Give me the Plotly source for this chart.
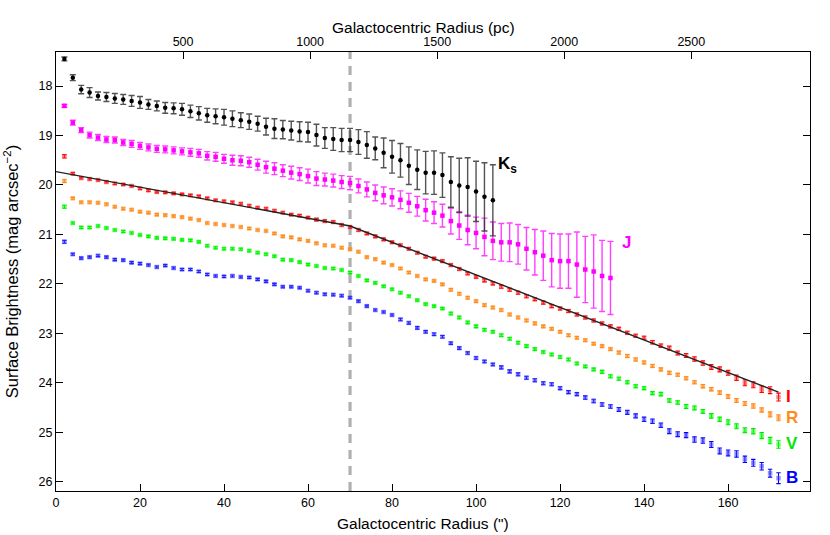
import plotly.graph_objects as go

# ---------------- data ----------------
radius = [2, 4, 6, 8, 10, 12, 14, 16, 18, 20, 22, 24, 26, 28, 30, 32, 34, 36, 38, 40,
          42, 44, 46, 48, 50, 52, 54, 56, 58, 60, 62, 64, 66, 68, 70, 72, 74, 76, 78, 80,
          82, 84, 86, 88, 90, 92, 94, 96, 98, 100, 102, 104, 106, 108, 110, 112, 114, 116, 118, 120,
          122, 124, 126, 128, 130, 132, 134, 136, 138, 140, 142, 144, 146, 148, 150, 152, 154, 156, 158, 160,
          162, 164, 166, 168, 170, 172]

I_mag = [19.42, 19.77, 19.86, 19.88, 19.90, 19.94, 19.97, 19.99, 20.02, 20.07, 20.11, 20.14, 20.15, 20.17, 20.19, 20.21, 20.23, 20.27, 20.31, 20.33,
         20.35, 20.38, 20.42, 20.46, 20.48, 20.52, 20.56, 20.60, 20.62, 20.66, 20.70, 20.73, 20.75, 20.81, 20.85, 20.91, 20.98, 21.04, 21.10, 21.16,
         21.22, 21.29, 21.37, 21.45, 21.49, 21.54, 21.62, 21.70, 21.79, 21.86, 21.93, 21.99, 22.06, 22.12, 22.18, 22.25, 22.31, 22.38, 22.45, 22.50,
         22.55, 22.62, 22.68, 22.74, 22.80, 22.86, 22.91, 22.99, 23.05, 23.09, 23.18, 23.25, 23.30, 23.40, 23.45, 23.52, 23.60, 23.68, 23.73, 23.80,
         23.90, 24.00, 24.04, 24.13, 24.15, 24.29]
R_mag = [19.92, 20.27, 20.35, 20.35, 20.36, 20.39, 20.44, 20.48, 20.50, 20.54, 20.56, 20.60, 20.61, 20.63, 20.65, 20.68, 20.71, 20.77, 20.79, 20.81,
         20.83, 20.85, 20.88, 20.91, 20.93, 20.98, 21.04, 21.06, 21.10, 21.13, 21.18, 21.22, 21.23, 21.27, 21.30, 21.35, 21.46, 21.50, 21.57, 21.62,
         21.69, 21.77, 21.84, 21.91, 21.94, 22.01, 22.12, 22.20, 22.28, 22.35, 22.43, 22.48, 22.53, 22.62, 22.68, 22.74, 22.80, 22.86, 22.91, 22.97,
         23.04, 23.09, 23.14, 23.21, 23.26, 23.32, 23.39, 23.46, 23.53, 23.59, 23.66, 23.73, 23.80, 23.84, 23.91, 23.99, 24.07, 24.13, 24.20, 24.28,
         24.36, 24.42, 24.47, 24.55, 24.64, 24.71]
V_mag = [20.44, 20.77, 20.86, 20.86, 20.83, 20.87, 20.91, 20.94, 20.97, 21.01, 21.04, 21.07, 21.08, 21.09, 21.11, 21.12, 21.15, 21.23, 21.27, 21.29,
         21.29, 21.30, 21.33, 21.37, 21.40, 21.44, 21.51, 21.52, 21.56, 21.61, 21.64, 21.68, 21.69, 21.72, 21.77, 21.84, 21.93, 21.98, 22.05, 22.11,
         22.18, 22.25, 22.33, 22.41, 22.45, 22.50, 22.60, 22.68, 22.78, 22.86, 22.93, 22.97, 23.04, 23.11, 23.19, 23.26, 23.32, 23.38, 23.43, 23.48,
         23.53, 23.61, 23.67, 23.73, 23.78, 23.87, 23.92, 23.99, 24.07, 24.11, 24.21, 24.23, 24.36, 24.40, 24.48, 24.51, 24.58, 24.67, 24.74, 24.80,
         24.88, 24.96, 24.98, 25.07, 25.17, 25.25]
B_mag = [21.15, 21.40, 21.48, 21.46, 21.43, 21.46, 21.51, 21.52, 21.57, 21.59, 21.62, 21.66, 21.63, 21.68, 21.71, 21.71, 21.75, 21.81, 21.84, 21.85,
         21.84, 21.86, 21.87, 21.91, 21.95, 22.01, 22.06, 22.06, 22.08, 22.14, 22.18, 22.21, 22.22, 22.24, 22.28, 22.35, 22.45, 22.53, 22.57, 22.63,
         22.72, 22.79, 22.89, 22.97, 23.02, 23.07, 23.20, 23.30, 23.40, 23.50, 23.57, 23.63, 23.69, 23.77, 23.83, 23.90, 23.95, 24.01, 24.03, 24.11,
         24.19, 24.23, 24.30, 24.37, 24.44, 24.48, 24.54, 24.60, 24.67, 24.74, 24.78, 24.86, 24.98, 25.04, 25.06, 25.15, 25.17, 25.25, 25.38, 25.42,
         25.44, 25.55, 25.62, 25.69, 25.83, 25.93]

I_err = [0.035, 0.02, 0.02, 0.02, 0.02, 0.02, 0.02, 0.02, 0.02, 0.02, 0.02, 0.02, 0.02, 0.02, 0.02, 0.02, 0.02, 0.02, 0.02, 0.02,
         0.02, 0.02, 0.02, 0.02, 0.02, 0.02, 0.02, 0.02, 0.02, 0.02, 0.025, 0.025, 0.025, 0.025, 0.025, 0.025, 0.025, 0.025, 0.025, 0.025,
         0.025, 0.025, 0.025, 0.025, 0.025, 0.025, 0.025, 0.025, 0.025, 0.025, 0.03, 0.03, 0.03, 0.03, 0.03, 0.03, 0.03, 0.03, 0.03, 0.03,
         0.03, 0.03, 0.03, 0.03, 0.03, 0.03, 0.03, 0.03, 0.03, 0.03, 0.035, 0.035, 0.04, 0.04, 0.04, 0.045, 0.045, 0.05, 0.05, 0.05,
         0.055, 0.06, 0.06, 0.065, 0.07, 0.08]
R_err = [0.03, 0.02, 0.02, 0.02, 0.02, 0.02, 0.02, 0.02, 0.02, 0.02, 0.02, 0.02, 0.02, 0.02, 0.02, 0.02, 0.02, 0.02, 0.02, 0.02,
         0.02, 0.02, 0.02, 0.02, 0.02, 0.02, 0.02, 0.02, 0.02, 0.02, 0.02, 0.02, 0.02, 0.02, 0.02, 0.02, 0.02, 0.02, 0.02, 0.02,
         0.02, 0.02, 0.02, 0.02, 0.02, 0.02, 0.025, 0.025, 0.025, 0.025, 0.025, 0.025, 0.025, 0.025, 0.025, 0.025, 0.025, 0.025, 0.025, 0.025,
         0.025, 0.025, 0.025, 0.025, 0.025, 0.025, 0.03, 0.03, 0.03, 0.03, 0.03, 0.03, 0.03, 0.03, 0.03, 0.03, 0.035, 0.035, 0.035, 0.04,
         0.04, 0.04, 0.045, 0.045, 0.05, 0.06]
V_err = [0.03, 0.02, 0.02, 0.02, 0.02, 0.02, 0.02, 0.02, 0.02, 0.02, 0.02, 0.02, 0.02, 0.02, 0.02, 0.02, 0.02, 0.02, 0.02, 0.02,
         0.02, 0.02, 0.02, 0.02, 0.02, 0.02, 0.02, 0.02, 0.02, 0.02, 0.02, 0.02, 0.02, 0.02, 0.02, 0.02, 0.02, 0.02, 0.02, 0.02,
         0.02, 0.02, 0.02, 0.02, 0.02, 0.02, 0.025, 0.025, 0.025, 0.025, 0.025, 0.025, 0.025, 0.025, 0.025, 0.025, 0.025, 0.025, 0.025, 0.025,
         0.025, 0.025, 0.025, 0.025, 0.03, 0.03, 0.03, 0.03, 0.03, 0.03, 0.03, 0.035, 0.035, 0.035, 0.04, 0.04, 0.04, 0.045, 0.045, 0.05,
         0.05, 0.05, 0.055, 0.06, 0.065, 0.075]
B_err = [0.03, 0.02, 0.02, 0.02, 0.02, 0.02, 0.02, 0.02, 0.02, 0.02, 0.02, 0.02, 0.02, 0.02, 0.02, 0.02, 0.02, 0.02, 0.02, 0.02,
         0.02, 0.02, 0.02, 0.02, 0.02, 0.02, 0.02, 0.02, 0.02, 0.02, 0.02, 0.02, 0.02, 0.02, 0.02, 0.02, 0.02, 0.02, 0.02, 0.02,
         0.025, 0.025, 0.025, 0.025, 0.025, 0.025, 0.025, 0.025, 0.025, 0.025, 0.025, 0.025, 0.03, 0.03, 0.03, 0.03, 0.03, 0.03, 0.03, 0.03,
         0.03, 0.03, 0.035, 0.035, 0.035, 0.035, 0.04, 0.04, 0.04, 0.045, 0.045, 0.045, 0.05, 0.05, 0.05, 0.055, 0.055, 0.06, 0.06, 0.06,
         0.065, 0.065, 0.07, 0.075, 0.08, 0.11]

Ks_radius = [2, 4, 6, 8, 10, 12, 14, 16, 18, 20, 22, 24, 26, 28, 30, 32, 34, 36, 38, 40,
             42, 44, 46, 48, 50, 52, 54, 56, 58, 60, 62, 64, 66, 68, 70, 72, 74, 76, 78, 80,
             82, 84, 86, 88, 90, 92, 94, 96, 98, 100, 102, 104]
Ks_mag = [17.45, 17.83, 18.07, 18.13, 18.20, 18.22, 18.25, 18.27, 18.30, 18.33, 18.37, 18.40, 18.44, 18.45, 18.47, 18.51, 18.55, 18.59, 18.61, 18.63,
          18.66, 18.69, 18.72, 18.76, 18.82, 18.86, 18.88, 18.90, 18.92, 18.93, 18.99, 19.05, 19.07, 19.09, 19.09, 19.13, 19.19, 19.26, 19.35, 19.43,
          19.50, 19.61, 19.69, 19.75, 19.75, 19.80, 19.94, 20.01, 20.04, 20.13, 20.24, 20.31]
Ks_err = [0.04, 0.06, 0.085, 0.10, 0.08, 0.09, 0.10, 0.10, 0.11, 0.12, 0.10, 0.10, 0.11, 0.11, 0.12, 0.125, 0.135, 0.14, 0.15, 0.16,
          0.16, 0.15, 0.155, 0.15, 0.17, 0.20, 0.185, 0.19, 0.20, 0.20, 0.22, 0.21, 0.23, 0.235, 0.235, 0.25, 0.27, 0.23, 0.30, 0.33,
          0.34, 0.38, 0.40, 0.43, 0.44, 0.45, 0.51, 0.55, 0.59, 0.61, 0.69, 0.72]

J_radius = [2, 4, 6, 8, 10, 12, 14, 16, 18, 20, 22, 24, 26, 28, 30, 32, 34, 36, 38, 40,
            42, 44, 46, 48, 50, 52, 54, 56, 58, 60, 62, 64, 66, 68, 70, 72, 74, 76, 78, 80,
            82, 84, 86, 88, 90, 92, 94, 96, 98, 100, 102, 104, 106, 108, 110, 112, 114, 116, 118, 120,
            122, 124, 126, 128, 130, 132]
J_mag = [18.40, 18.74, 18.89, 18.99, 19.04, 19.08, 19.09, 19.14, 19.17, 19.21, 19.24, 19.27, 19.28, 19.30, 19.32, 19.34, 19.36, 19.41, 19.43, 19.47,
         19.50, 19.51, 19.54, 19.59, 19.64, 19.67, 19.71, 19.75, 19.78, 19.82, 19.87, 19.89, 19.91, 19.94, 19.96, 20.02, 20.09, 20.16, 20.21, 20.25,
         20.30, 20.36, 20.43, 20.51, 20.56, 20.62, 20.73, 20.82, 20.91, 20.97, 21.05, 21.13, 21.16, 21.16, 21.20, 21.29, 21.36, 21.43, 21.52, 21.54,
         21.54, 21.61, 21.71, 21.75, 21.84, 21.88]
J_err = [0.03, 0.05, 0.05, 0.06, 0.06, 0.06, 0.06, 0.06, 0.07, 0.07, 0.07, 0.07, 0.07, 0.07, 0.07, 0.08, 0.08, 0.085, 0.09, 0.09,
         0.10, 0.10, 0.10, 0.11, 0.12, 0.12, 0.12, 0.13, 0.13, 0.14, 0.14, 0.13, 0.13, 0.13, 0.135, 0.14, 0.15, 0.16, 0.17, 0.175,
         0.18, 0.19, 0.20, 0.22, 0.22, 0.23, 0.26, 0.28, 0.30, 0.32, 0.38, 0.38, 0.38, 0.39, 0.40, 0.43, 0.46, 0.50, 0.54, 0.55,
         0.55, 0.66, 0.67, 0.74, 0.72, 0.74]

# broken exponential (two-slope) fit to the I band
fit_radius = [0, 70, 172]
fit_mag = [19.73, 20.83, 24.19]

break_radius = 70
pc_per_arcsec = 16.53
x_max = 179.5
y_range = [26.19, 17.31]

FONT = "Liberation Sans, Arial, Helvetica, sans-serif"

fig = go.Figure()


def band(xs, ys, errs, col, light, name):
    fig.add_trace(go.Scatter(
        x=xs, y=ys, mode="markers", name=name, showlegend=False,
        marker=dict(symbol="square", size=4.5, color=light, line=dict(width=0)),
        error_y=dict(type="data", array=errs, visible=True, color=col,
                     thickness=1.1, width=2.2),
    ))


band(radius, B_mag, B_err, "#0000ff", "rgba(60,60,255,0.55)", "B")
band(radius, V_mag, V_err, "#00e600", "rgba(0,255,0,0.55)", "V")
band(radius, R_mag, R_err, "#ff8c1a", "rgba(255,140,30,0.6)", "R")
band(radius, I_mag, I_err, "#ff0000", "rgba(255,40,40,0.55)", "I")

fig.add_trace(go.Scatter(
    x=J_radius, y=J_mag, mode="markers", showlegend=False,
    marker=dict(symbol="square", size=4.5, color="#ff00ff", line=dict(width=0)),
    error_y=dict(type="data", array=J_err, visible=True, color="rgba(255,0,255,0.75)",
                 thickness=1.4, width=3),
))
fig.add_trace(go.Scatter(
    x=Ks_radius, y=Ks_mag, mode="markers", showlegend=False,
    marker=dict(symbol="circle", size=4.5, color="black", line=dict(width=0)),
    error_y=dict(type="data", array=Ks_err, visible=True, color="rgba(40,40,40,0.8)",
                 thickness=1.4, width=3),
))

fig.add_trace(go.Scatter(
    x=fit_radius, y=fit_mag, mode="lines", showlegend=False,
    line=dict(color="#222222", width=1.4),
))

# invisible trace to activate the top (pc) axis
fig.add_trace(go.Scatter(x=[], y=[], xaxis="x2", mode="markers", showlegend=False,
                         hoverinfo="skip"))

fig.add_shape(type="line", xref="x", yref="paper", x0=break_radius, x1=break_radius,
              y0=0, y1=1, layer="below",
              line=dict(color="#b0b0b0", width=3.2, dash="9px,7px"))

labels = [
    ("K<sub>s</sub>", 104.8, 19.6, "black"),
    ("J", 134.3, 21.17, "#ff00ff"),
    ("I", 173.2, 24.27, "#ff0000"),
    ("R", 173.2, 24.7, "#ff8c1a"),
    ("V", 173.2, 25.23, "#00e600"),
    ("B", 173.2, 25.92, "#0000ff"),
]
for txt, lx, ly, col in labels:
    fig.add_annotation(x=lx, y=ly, text="<b>" + txt + "</b>", showarrow=False,
                       xanchor="left", yanchor="middle",
                       font=dict(family=FONT, size=17, color=col))

# axis titles for the two horizontal axes
fig.add_annotation(x=0.487, y=1, xref="paper", yref="paper", yshift=25,
                   text="Galactocentric Radius (pc)", showarrow=False,
                   xanchor="center", yanchor="middle",
                   font=dict(family=FONT, size=15.5, color="black"))
fig.add_annotation(x=0.487, y=0, xref="paper", yref="paper", yshift=-32,
                   text="Galactocentric Radius (\")", showarrow=False,
                   xanchor="center", yanchor="middle",
                   font=dict(family=FONT, size=15.5, color="black"))

axis_common = dict(showline=True, linecolor="black", linewidth=1, ticks="inside",
                   tickcolor="black", tickwidth=1, showgrid=False, zeroline=False,
                   automargin=False,
                   tickfont=dict(family=FONT, size=12.5, color="black"))

fig.update_layout(
    width=830, height=535,
    margin=dict(l=56, r=20, t=52, b=44),
    paper_bgcolor="white", plot_bgcolor="white",
    font=dict(family=FONT, color="black"),
    xaxis=dict(range=[0, x_max], tickvals=[0, 20, 40, 60, 80, 100, 120, 140, 160],
               ticklen=7, **axis_common),
    xaxis2=dict(range=[0, x_max * pc_per_arcsec], overlaying="x", side="top",
                anchor="y", tickvals=[500, 1000, 1500, 2000, 2500], ticklen=7,
                **axis_common),
    yaxis=dict(range=y_range, tickvals=[18, 19, 20, 21, 22, 23, 24, 25, 26],
               ticklen=7, mirror="ticks",
               title=dict(text="Surface Brightness (mag arcsec<sup>\u22122</sup>)",
                          font=dict(family=FONT, size=16.5)),
               **axis_common),
)

fig.write_html("out.html", config={"displayModeBar": False},
               post_script="document.body.style.margin='0px';")
